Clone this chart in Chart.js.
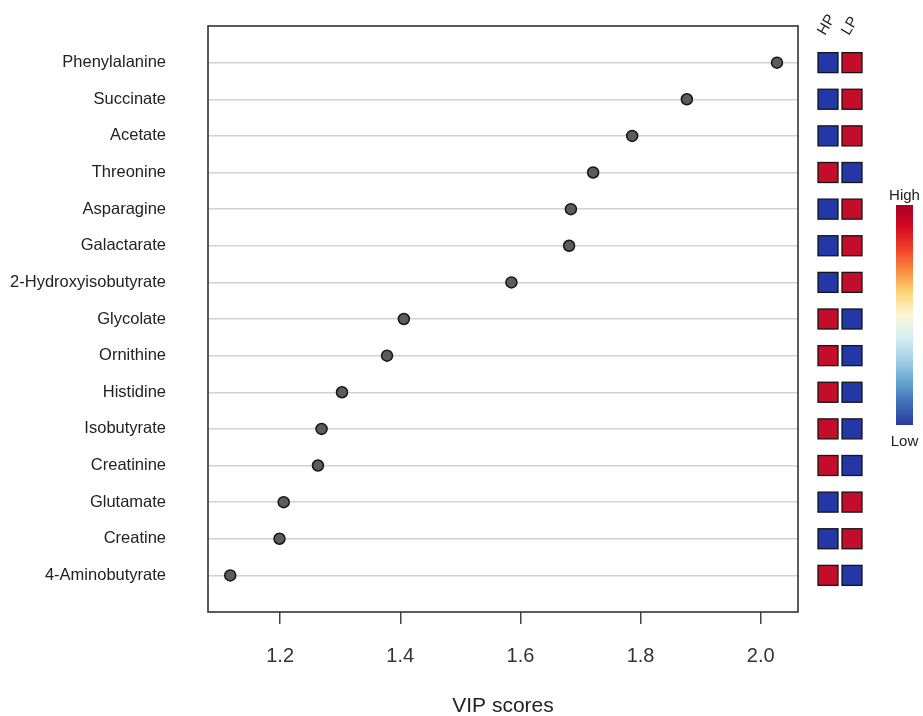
<!DOCTYPE html>
<html>
<head>
<meta charset="utf-8">
<script src="https://cdn.jsdelivr.net/npm/chart.js@4"></script>
<style>
  html, body { margin: 0; padding: 0; background: #ffffff; }
  #wrap { width: 923px; height: 716px; position: relative; }
</style>
</head>
<body>
<div id="wrap"><canvas id="c" width="923" height="716"></canvas></div>
<script>
// ---- data ----
const metabolites = [
  'Phenylalanine', 'Succinate', 'Acetate', 'Threonine', 'Asparagine',
  'Galactarate', '2-Hydroxyisobutyrate', 'Glycolate', 'Ornithine', 'Histidine',
  'Isobutyrate', 'Creatinine', 'Glutamate', 'Creatine', '4-Aminobutyrate'
];
const vipScores = [
  2.027, 1.877, 1.786, 1.721, 1.684,
  1.681, 1.585, 1.406, 1.378, 1.303,
  1.269, 1.263, 1.206, 1.199, 1.117
];
// relative level per group: 1 = High, 0 = Low
const hpLevels = [0, 0, 0, 1, 0, 0, 0, 1, 1, 1, 1, 1, 0, 0, 1];
const lpLevels = [1, 1, 1, 0, 1, 1, 1, 0, 0, 0, 0, 0, 1, 1, 0];
const groupNames = ['HP', 'LP'];
const xTickValues = [1.2, 1.4, 1.6, 1.8, 2.0];
const xAxisTitle = 'VIP scores';
const legendLabels = ['High', 'Low'];

const FONT = '"Liberation Sans", Arial, Helvetica, sans-serif';
const HIGH_COLOR = '#c40d2b';
const LOW_COLOR = '#2437a6';

const points = vipScores.map((v, i) => ({ x: v, y: i }));

const frameAndHeatmap = {
  id: 'frameAndHeatmap',
  afterDraw(chart) {
    const { ctx, chartArea, scales } = chart;
    const ys = scales.y;
    ctx.save();
    // plot frame
    ctx.strokeStyle = '#333333';
    ctx.lineWidth = 1.6;
    ctx.strokeRect(chartArea.left, chartArea.top, chartArea.right - chartArea.left, chartArea.bottom - chartArea.top);

    // heatmap cells
    const size = 20;
    const colX = [828, 852];
    const levels = [hpLevels, lpLevels];
    levels.forEach((arr, c) => {
      arr.forEach((lv, i) => {
        const cy = ys.getPixelForValue(i);
        ctx.fillStyle = lv ? HIGH_COLOR : LOW_COLOR;
        ctx.fillRect(colX[c] - size / 2, cy - size / 2, size, size);
        ctx.strokeStyle = '#151515';
        ctx.lineWidth = 1.3;
        ctx.strokeRect(colX[c] - size / 2, cy - size / 2, size, size);
      });
    });

    // column headers, slanted
    ctx.fillStyle = '#222222';
    ctx.font = '15px ' + FONT;
    ctx.textAlign = 'left';
    ctx.textBaseline = 'alphabetic';
    groupNames.forEach((g, c) => {
      ctx.save();
      ctx.translate(colX[c] - 3, 36);
      ctx.rotate(-Math.PI / 3);
      ctx.fillText(g, 0, 0);
      ctx.restore();
    });

    // colour bar
    const bx = 896, by = 205, bw = 17, bh = 220;
    const g = ctx.createLinearGradient(0, by, 0, by + bh);
    const stops = ['#a50026', '#d50a22', '#f0402a', '#fb8c3c', '#fdd57a', '#fbf6d4',
                   '#d6eef5', '#a6d2e6', '#6aa6d0', '#3f6fb8', '#2a3a9c'];
    stops.forEach((s, k) => g.addColorStop(k / (stops.length - 1), s));
    ctx.fillStyle = g;
    ctx.fillRect(bx, by, bw, bh);
    ctx.fillStyle = '#222222';
    ctx.font = '15px ' + FONT;
    ctx.textAlign = 'center';
    ctx.textBaseline = 'middle';
    ctx.fillText(legendLabels[0], bx + bw / 2, 196);
    ctx.fillText(legendLabels[1], bx + bw / 2, 442);
    ctx.restore();
  }
};

new Chart(document.getElementById('c'), {
  type: 'scatter',
  data: {
    datasets: [{
      data: points,
      backgroundColor: '#5c5c5c',
      borderColor: '#151515',
      borderWidth: 1.5,
      pointRadius: 5.5,
      pointHoverRadius: 5.5
    }]
  },
  options: {
    responsive: false,
    animation: false,
    events: [],
    layout: { padding: { top: 26, right: 125, left: 0, bottom: 0 } },
    plugins: { legend: { display: false }, tooltip: { enabled: false } },
    scales: {
      x: {
        type: 'linear',
        position: 'bottom',
        min: 1.08,
        max: 2.062,
        afterBuildTicks: (axis) => { axis.ticks = xTickValues.map(v => ({ value: v })); },
        afterFit: (axis) => { axis.height = 104; },
        grid: { drawOnChartArea: false, drawTicks: true, tickLength: 12, color: '#444444', lineWidth: 1.5 },
        border: { display: false },
        ticks: {
          font: { family: FONT, size: 20 },
          color: '#333333',
          padding: 20,
          maxRotation: 0,
          callback: (v) => Number(v).toFixed(1)
        },
        title: {
          display: true,
          text: xAxisTitle,
          font: { family: FONT, size: 21 },
          color: '#222222',
          padding: { top: 0, bottom: -3 }
        }
      },
      y: {
        type: 'linear',
        reverse: true,
        min: -1,
        max: metabolites.length,
        afterBuildTicks: (axis) => { axis.ticks = metabolites.map((_, i) => ({ value: i })); },
        afterFit: (axis) => { axis.width = 208; axis.paddingTop = 0; axis.paddingBottom = 0; },
        grid: { drawTicks: false, color: '#d2d2d2', lineWidth: 1.5 },
        border: { display: false },
        ticks: {
          font: { family: FONT, size: 16.5 },
          color: '#222222',
          padding: 42,
          callback: (v) => metabolites[v]
        }
      }
    }
  },
  plugins: [frameAndHeatmap]
});
</script>
</body>
</html>
